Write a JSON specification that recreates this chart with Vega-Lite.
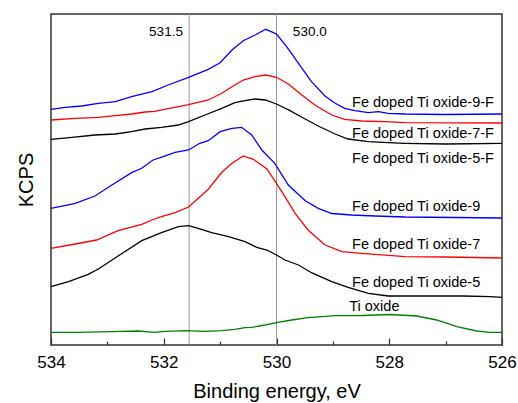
{
  "$schema": "https://vega.github.io/schema/vega-lite/v6.json",
  "width": 451,
  "height": 331,
  "autosize": "none",
  "padding": {"left": 51, "top": 14, "right": 16, "bottom": 58},
  "config": {
    "font": "Liberation Sans",
    "view": {"stroke": "#333333", "strokeWidth": 1.5},
    "axis": {"grid": false, "domain": false, "labelColor": "#000000", "titleColor": "#000000", "tickColor": "#333333", "labelFlush": false}
  },
  "datasets": {
    "spectra": [
      {"s":"9F","e":534.0,"k":235.7},{"s":"9F","e":533.75,"k":237.7},{"s":"9F","e":533.46,"k":239},{"s":"9F","e":533.16,"k":241.7},{"s":"9F","e":532.86,"k":243.3},{"s":"9F","e":532.57,"k":248.3},{"s":"9F","e":532.21,"k":253.3},{"s":"9F","e":531.92,"k":260},{"s":"9F","e":531.56,"k":267.7},{"s":"9F","e":531.21,"k":275.7},{"s":"9F","e":531.0,"k":282.3},{"s":"9F","e":530.79,"k":295},{"s":"9F","e":530.59,"k":304.3},{"s":"9F","e":530.38,"k":310},{"s":"9F","e":530.19,"k":315.7},{"s":"9F","e":530.0,"k":311},{"s":"9F","e":529.82,"k":298.3},{"s":"9F","e":529.61,"k":281.7},{"s":"9F","e":529.38,"k":263.3},{"s":"9F","e":529.14,"k":249},{"s":"9F","e":528.96,"k":241.7},{"s":"9F","e":528.79,"k":236.7},{"s":"9F","e":528.61,"k":234.3},{"s":"9F","e":528.37,"k":232.3},{"s":"9F","e":528.19,"k":233.3},{"s":"9F","e":528.02,"k":231.7},{"s":"9F","e":527.72,"k":231},{"s":"9F","e":527.0,"k":230.5},{"s":"9F","e":526.0,"k":231},
      {"s":"7F","e":534.0,"k":225},{"s":"7F","e":533.57,"k":226.7},{"s":"7F","e":533.16,"k":227.7},{"s":"7F","e":532.86,"k":229.3},{"s":"7F","e":532.57,"k":231},{"s":"7F","e":532.33,"k":233},{"s":"7F","e":532.16,"k":233.7},{"s":"7F","e":531.92,"k":236.3},{"s":"7F","e":531.56,"k":240.3},{"s":"7F","e":531.21,"k":245},{"s":"7F","e":530.97,"k":251.7},{"s":"7F","e":530.79,"k":258.3},{"s":"7F","e":530.59,"k":265},{"s":"7F","e":530.38,"k":268.3},{"s":"7F","e":530.19,"k":270},{"s":"7F","e":530.0,"k":267.7},{"s":"7F","e":529.79,"k":261},{"s":"7F","e":529.55,"k":250},{"s":"7F","e":529.32,"k":240},{"s":"7F","e":529.02,"k":230},{"s":"7F","e":528.79,"k":225.7},{"s":"7F","e":528.49,"k":224},{"s":"7F","e":528.08,"k":223.3},{"s":"7F","e":527.72,"k":222.3},{"s":"7F","e":526.0,"k":222},
      {"s":"5F","e":534.0,"k":205.7},{"s":"5F","e":533.63,"k":207.7},{"s":"5F","e":533.22,"k":210},{"s":"5F","e":532.86,"k":211},{"s":"5F","e":532.57,"k":213.3},{"s":"5F","e":532.33,"k":216},{"s":"5F","e":532.04,"k":217.7},{"s":"5F","e":531.74,"k":220},{"s":"5F","e":531.56,"k":223.3},{"s":"5F","e":531.27,"k":230},{"s":"5F","e":530.97,"k":236.7},{"s":"5F","e":530.74,"k":242.3},{"s":"5F","e":530.56,"k":244.3},{"s":"5F","e":530.38,"k":246},{"s":"5F","e":530.2,"k":245},{"s":"5F","e":530.0,"k":241},{"s":"5F","e":529.76,"k":234.3},{"s":"5F","e":529.55,"k":227.7},{"s":"5F","e":529.26,"k":219},{"s":"5F","e":528.96,"k":211},{"s":"5F","e":528.73,"k":206},{"s":"5F","e":528.37,"k":203.3},{"s":"5F","e":528.02,"k":202.3},{"s":"5F","e":527.72,"k":201.7},{"s":"5F","e":527.0,"k":201},{"s":"5F","e":526.0,"k":201.7},
      {"s":"9","e":534.0,"k":136.7},{"s":"9","e":533.57,"k":141.7},{"s":"9","e":533.22,"k":149},{"s":"9","e":532.92,"k":160},{"s":"9","e":532.57,"k":172.3},{"s":"9","e":532.39,"k":176.7},{"s":"9","e":532.19,"k":185},{"s":"9","e":532.01,"k":188.3},{"s":"9","e":531.8,"k":192.7},{"s":"9","e":531.56,"k":195},{"s":"9","e":531.36,"k":201.7},{"s":"9","e":531.21,"k":204.3},{"s":"9","e":531.0,"k":213.3},{"s":"9","e":530.79,"k":216.7},{"s":"9","e":530.62,"k":217.7},{"s":"9","e":530.44,"k":210},{"s":"9","e":530.26,"k":195},{"s":"9","e":530.03,"k":181.7},{"s":"9","e":529.79,"k":160},{"s":"9","e":529.49,"k":144.2},{"s":"9","e":529.26,"k":136.7},{"s":"9","e":529.02,"k":131.5},{"s":"9","e":528.67,"k":130},{"s":"9","e":528.25,"k":129},{"s":"9","e":527.72,"k":128},{"s":"9","e":526.0,"k":127},
      {"s":"7","e":534.0,"k":96.7},{"s":"7","e":533.57,"k":101},{"s":"7","e":533.19,"k":105},{"s":"7","e":532.81,"k":114.3},{"s":"7","e":532.39,"k":120.7},{"s":"7","e":532.21,"k":125},{"s":"7","e":532.04,"k":128.3},{"s":"7","e":531.8,"k":132.3},{"s":"7","e":531.56,"k":138},{"s":"7","e":531.21,"k":155.8},{"s":"7","e":530.97,"k":172.7},{"s":"7","e":530.79,"k":181.7},{"s":"7","e":530.59,"k":189},{"s":"7","e":530.41,"k":185.7},{"s":"7","e":530.17,"k":176},{"s":"7","e":530.03,"k":164.2},{"s":"7","e":529.85,"k":148.3},{"s":"7","e":529.67,"k":131.7},{"s":"7","e":529.44,"k":115},{"s":"7","e":529.14,"k":100},{"s":"7","e":528.84,"k":93.3},{"s":"7","e":528.49,"k":91.7},{"s":"7","e":527.72,"k":88.3},{"s":"7","e":527.0,"k":88},{"s":"7","e":526.0,"k":87},
      {"s":"5","e":534.0,"k":58.3},{"s":"5","e":533.69,"k":63.3},{"s":"5","e":533.34,"k":70.7},{"s":"5","e":533.16,"k":76},{"s":"5","e":532.81,"k":89},{"s":"5","e":532.39,"k":104.3},{"s":"5","e":532.04,"k":112.3},{"s":"5","e":531.74,"k":118.3},{"s":"5","e":531.56,"k":119.3},{"s":"5","e":531.39,"k":116.7},{"s":"5","e":531.15,"k":112.3},{"s":"5","e":530.85,"k":108.3},{"s":"5","e":530.56,"k":103.3},{"s":"5","e":530.35,"k":97.7},{"s":"5","e":530.17,"k":95},{"s":"5","e":530.0,"k":90},{"s":"5","e":529.85,"k":85},{"s":"5","e":529.61,"k":80},{"s":"5","e":529.38,"k":72.3},{"s":"5","e":529.02,"k":63.3},{"s":"5","e":528.73,"k":57.7},{"s":"5","e":528.37,"k":51.7},{"s":"5","e":528.02,"k":49},{"s":"5","e":527.28,"k":49},{"s":"5","e":526.69,"k":49},{"s":"5","e":526.21,"k":48.3},{"s":"5","e":526.0,"k":47.7},
      {"s":"Ti","e":534.0,"k":12.7},{"s":"Ti","e":533.52,"k":12.7},{"s":"Ti","e":532.92,"k":13.3},{"s":"Ti","e":532.45,"k":14},{"s":"Ti","e":532.16,"k":12.7},{"s":"Ti","e":531.98,"k":13.7},{"s":"Ti","e":531.62,"k":14.3},{"s":"Ti","e":531.27,"k":13.7},{"s":"Ti","e":530.97,"k":14.3},{"s":"Ti","e":530.74,"k":15.7},{"s":"Ti","e":530.56,"k":17.3},{"s":"Ti","e":530.44,"k":17.7},{"s":"Ti","e":530.2,"k":20},{"s":"Ti","e":530.0,"k":22.3},{"s":"Ti","e":529.73,"k":25},{"s":"Ti","e":529.44,"k":27.3},{"s":"Ti","e":528.96,"k":29.3},{"s":"Ti","e":528.49,"k":29.5},{"s":"Ti","e":527.99,"k":30.5},{"s":"Ti","e":527.51,"k":29},{"s":"Ti","e":527.16,"k":25},{"s":"Ti","e":526.8,"k":18.3},{"s":"Ti","e":526.45,"k":14},{"s":"Ti","e":526.21,"k":12.7},{"s":"Ti","e":526.0,"k":12.7}
    ],
    "labels": [
      {"t":"Fe doped Ti oxide-9-F","e":528.66,"k":237.7},
      {"t":"Fe doped Ti oxide-7-F","e":528.66,"k":206.7},
      {"t":"Fe doped Ti oxide-5-F","e":528.66,"k":181.7},
      {"t":"Fe doped Ti oxide-9","e":528.66,"k":134.3},
      {"t":"Fe doped Ti oxide-7","e":528.66,"k":96},
      {"t":"Fe doped Ti oxide-5","e":528.66,"k":58.3},
      {"t":"Ti oxide","e":528.71,"k":34}
    ],
    "refs": [
      {"e":531.55,"t":"531.5","le":531.96,"k":309.5},
      {"e":530.0,"t":"530.0","le":529.41,"k":309.5}
    ]
  },
  "resolve": {"axis": {"x": "independent"}},
  "layer": [
    {
      "data": {"name": "refs"},
      "mark": {"type": "rule", "color": "#999999", "strokeWidth": 1},
      "encoding": {
        "x": {"field": "e", "type": "quantitative",
              "scale": {"domain": [526, 534], "reverse": true, "nice": false, "zero": false},
              "axis": {"orient": "bottom", "values": [534, 532, 530, 528, 526], "tickSize": -7, "tickWidth": 1.2,
                       "labelFontSize": 17, "labelPadding": 16, "format": "d", "labelFlush": false,
                       "title": "Binding energy, eV", "titleFontSize": 20, "titleFontWeight": "normal", "titlePadding": 11}}
      }
    },
    {
      "data": {"name": "spectra"},
      "mark": {"type": "line", "strokeWidth": 1.3},
      "encoding": {
        "x": {"field": "e", "type": "quantitative",
              "axis": {"orient": "bottom", "values": [533, 531, 529, 527], "tickSize": -4, "tickWidth": 1.2, "labels": false, "title": null}},
        "y": {"field": "k", "type": "quantitative",
              "scale": {"domain": [0, 331], "nice": false, "zero": false},
              "axis": {"ticks": false, "labels": false, "title": "KCPS", "titleFontSize": 20, "titleFontWeight": "normal", "titlePadding": 15}},
        "color": {"field": "s", "type": "nominal", "legend": null,
                  "scale": {"domain": ["9F", "7F", "5F", "9", "7", "5", "Ti"],
                            "range": ["#0000ff", "#ff0000", "#000000", "#0000ff", "#ff0000", "#000000", "#008000"]}}
      }
    },
    {
      "data": {"name": "labels"},
      "mark": {"type": "text", "align": "left", "baseline": "alphabetic", "fontSize": 14.5, "color": "#000000"},
      "encoding": {
        "x": {"field": "e", "type": "quantitative", "axis": null},
        "y": {"field": "k", "type": "quantitative",
              "axis": {"ticks": false, "labels": false, "title": "KCPS", "titleFontSize": 20, "titleFontWeight": "normal", "titlePadding": 15}},
        "text": {"field": "t"}
      }
    },
    {
      "data": {"name": "refs"},
      "mark": {"type": "text", "align": "center", "baseline": "alphabetic", "fontSize": 13.5, "color": "#000000"},
      "encoding": {
        "x": {"field": "le", "type": "quantitative", "axis": null},
        "y": {"field": "k", "type": "quantitative",
              "axis": {"ticks": false, "labels": false, "title": "KCPS", "titleFontSize": 20, "titleFontWeight": "normal", "titlePadding": 15}},
        "text": {"field": "t"}
      }
    }
  ]
}
